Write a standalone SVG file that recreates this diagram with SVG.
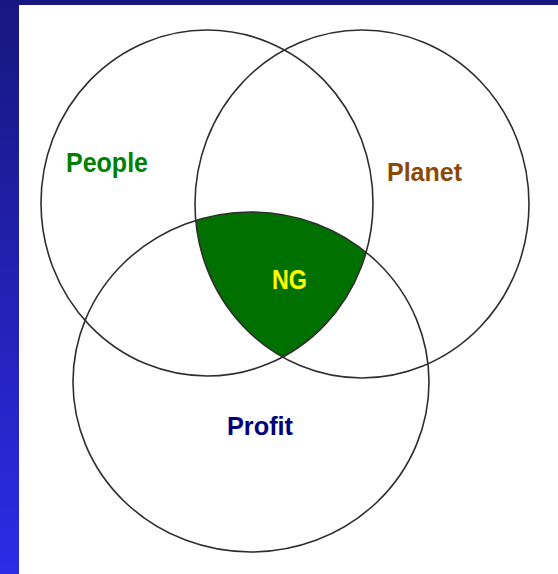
<svg xmlns="http://www.w3.org/2000/svg" width="558" height="574" viewBox="0 0 558 574">
  <defs>
    <linearGradient id="bg" x1="0" y1="0" x2="0" y2="1">
      <stop offset="0" stop-color="#18177f"/>
      <stop offset="1" stop-color="#2c2be6"/>
    </linearGradient>
    <clipPath id="clipPeople"><ellipse cx="207" cy="203" rx="166" ry="173"/></clipPath>
    <clipPath id="clipPlanet"><ellipse cx="362" cy="204" rx="167" ry="174"/></clipPath>
    <style>
      .ring { fill: none; stroke: #2e2e2e; stroke-width: 1.6; }
      .lbl { font-family: "Liberation Sans", Arial, sans-serif; font-weight: bold; }
    </style>
  </defs>
  <rect x="0" y="0" width="558" height="574" fill="url(#bg)"/>
  <rect x="19" y="5" width="539" height="569" fill="#ffffff"/>

  <g id="ng-region" clip-path="url(#clipPeople)">
    <g clip-path="url(#clipPlanet)">
      <ellipse cx="251" cy="382" rx="178" ry="170" fill="#007000"/>
    </g>
  </g>

  <g id="people">
    <ellipse class="ring" cx="207" cy="203" rx="166" ry="173"/>
    <text class="lbl" x="66" y="172" font-size="28" fill="#008000" textLength="82" lengthAdjust="spacingAndGlyphs">People</text>
  </g>
  <g id="planet">
    <ellipse class="ring" cx="362" cy="204" rx="167" ry="174"/>
    <text class="lbl" x="387" y="181" font-size="25" fill="#8a4a05" textLength="75" lengthAdjust="spacingAndGlyphs">Planet</text>
  </g>
  <g id="profit">
    <ellipse class="ring" cx="251" cy="382" rx="178" ry="170"/>
    <text class="lbl" x="227" y="435" font-size="25" fill="#00007a" textLength="66" lengthAdjust="spacingAndGlyphs">Profit</text>
  </g>
  <g id="ng">
    <text class="lbl" x="272" y="289" font-size="28" fill="#ffff00" textLength="35" lengthAdjust="spacingAndGlyphs">NG</text>
  </g>
</svg>
